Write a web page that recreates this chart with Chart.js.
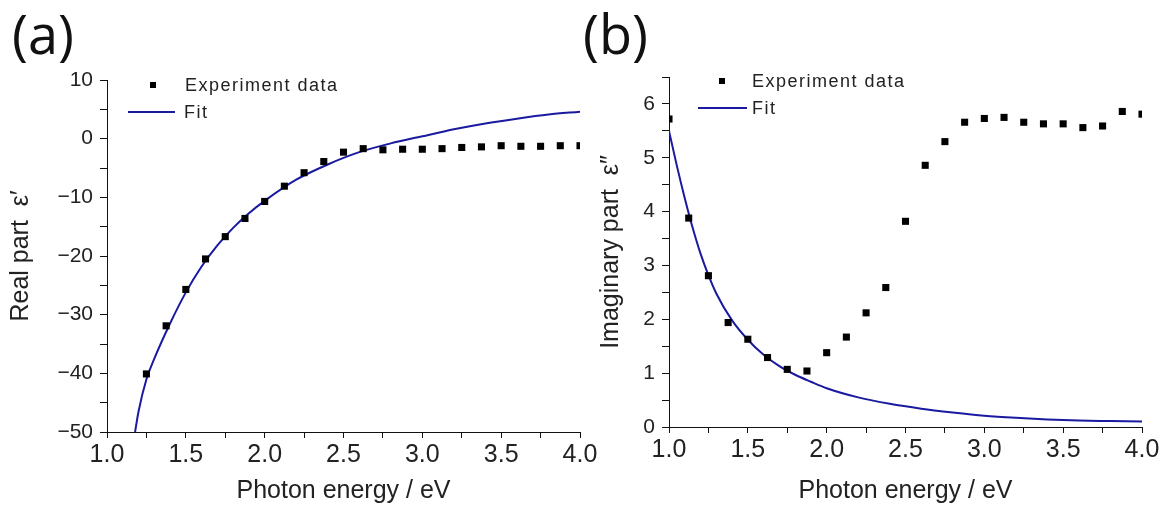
<!DOCTYPE html>
<html>
<head>
<meta charset="utf-8">
<script src="https://cdn.jsdelivr.net/npm/chart.js@4.4.1/dist/chart.umd.min.js"></script>
<style>
  body { margin: 0; background: #fff; }
  #page { position: relative; width: 1171px; height: 510px; overflow: hidden; font-family: "Liberation Sans", Arial, sans-serif; color: #222; }
  canvas { position: absolute; top: 0; }
  .tag { position: absolute; font-family: "Open Sans", sans-serif; font-size: 54px; line-height: 1; color: #111; }
  .leg { position: absolute; font-size: 18px; letter-spacing: 1.5px; line-height: 20px; height: 20px; white-space: nowrap; }
  .sq { position: absolute; width: 6px; height: 6px; background: #000; }
  .ln { position: absolute; height: 2px; background: #1a1aa0; }
</style>
</head>
<body>
<div id="page">
  <canvas id="realChart" width="610" height="510" style="left:0px"></canvas>
  <canvas id="imagChart" width="586" height="510" style="left:585px"></canvas>

  <div class="tag" style="left:12px; top:6px">(a)</div>
  <div class="tag" style="left:583px; top:6px">(b)</div>

  <div class="sq" style="left:150px; top:82px"></div>
  <div class="leg" style="left:185px; top:75px">Experiment data</div>
  <div class="ln" style="left:128px; top:111px; width:47px"></div>
  <div class="leg" style="left:184px; top:102px">Fit</div>

  <div class="sq" style="left:719px; top:78px"></div>
  <div class="leg" style="left:752px; top:71px">Experiment data</div>
  <div class="ln" style="left:698px; top:107px; width:49px"></div>
  <div class="leg" style="left:752px; top:98px">Fit</div>
</div>
<script>
// (a) real part, experiment points
const realEnergy = [1.25, 1.375, 1.5, 1.625, 1.75, 1.875, 2.0, 2.125, 2.25, 2.375, 2.5, 2.625,
  2.75, 2.875, 3.0, 3.125, 3.25, 3.375, 3.5, 3.625, 3.75, 3.875, 4.0]
const realExp = [-40.1, -31.9, -25.7, -20.5, -16.7, -13.6, -10.7, -8.1, -5.8, -3.9, -2.3, -1.7,
  -1.9, -1.8, -1.8, -1.7, -1.5, -1.4, -1.2, -1.3, -1.3, -1.2, -1.2]
// (a) fit curve
const realFitEnergy = [1.178, 1.2, 1.25, 1.3, 1.4, 1.5, 1.6, 1.7, 1.8, 1.9, 2.0, 2.2, 2.4, 2.6,
  2.8, 3.0, 3.2, 3.4, 3.6, 3.8, 4.0]
const realFit = [-50, -46.5, -41.0, -37.5, -31.5, -26.2, -21.8, -18.2, -15.2, -12.7, -10.6, -7.0,
  -4.4, -2.3, -0.8, 0.4, 1.6, 2.6, 3.4, 4.1, 4.6]

// (b) imaginary part, experiment points
const imagEnergy = [1.0, 1.125, 1.25, 1.375, 1.5, 1.625, 1.75, 1.875, 2.0, 2.125, 2.25, 2.375,
  2.5, 2.625, 2.75, 2.875, 3.0, 3.125, 3.25, 3.375, 3.5, 3.625, 3.75, 3.875, 4.0]
const imagExp = [5.72, 3.88, 2.81, 1.94, 1.63, 1.29, 1.07, 1.04, 1.38, 1.67, 2.12, 2.59,
  3.82, 4.86, 5.30, 5.66, 5.73, 5.75, 5.66, 5.63, 5.63, 5.56, 5.59, 5.86, 5.81]
// (b) fit curve
const imagFitEnergy = [1.0, 1.05, 1.1, 1.15, 1.2, 1.25, 1.3, 1.4, 1.5, 1.6, 1.7, 1.8, 1.9, 2.0,
  2.2, 2.4, 2.6, 2.8, 3.0, 3.2, 3.4, 3.6, 3.8, 4.0]
const imagFit = [5.5, 4.85, 4.25, 3.7, 3.22, 2.82, 2.48, 1.98, 1.62, 1.34, 1.13, 0.97, 0.84, 0.72,
  0.55, 0.43, 0.34, 0.27, 0.21, 0.17, 0.14, 0.12, 0.11, 0.1]

const xTitle = "Photon energy / eV"
const realTitle = "Real part  ε′"
const imagTitle = "Imaginary part  ε″"

const fitColor = "#1a1aa0"
const axisColor = "#111"
const textColor = "#222"

Chart.defaults.font.family = "'Liberation Sans', Arial, sans-serif"
Chart.defaults.color = textColor

function pts(xs, ys) {
  return xs.map((x, i) => ({ x: x, y: ys[i] }))
}

function near(v, step) {
  return Math.abs(v / step - Math.round(v / step)) < 1e-6
}

function makePanel(id, p) {
  const ctx = document.getElementById(id).getContext("2d")
  return new Chart(ctx, {
    type: "scatter",
    data: {
      datasets: [{
        label: "Experiment data",
        data: pts(p.expX, p.expY),
        pointStyle: "rect",
        pointRadius: 5,
        backgroundColor: "#000",
        borderColor: "#000",
        borderWidth: 0,
        showLine: false,
        order: 1
      }, {
        label: "Fit",
        data: pts(p.fitX, p.fitY),
        showLine: true,
        pointRadius: 0,
        borderColor: fitColor,
        borderWidth: 2,
        cubicInterpolationMode: "monotone",
        order: 2
      }]
    },
    options: {
      responsive: false,
      animation: false,
      layout: { padding: { left: 0, top: p.top, right: p.right, bottom: 0 } },
      plugins: { legend: { display: false }, tooltip: { enabled: false }, title: { display: false } },
      scales: {
        x: {
          type: "linear",
          min: 1, max: 4,
          afterFit: (s) => { s.height = p.xHeight },
          border: { display: true, color: axisColor, width: 1 },
          grid: { drawOnChartArea: false, drawTicks: true, tickLength: 6, color: axisColor },
          ticks: {
            stepSize: 0.25, autoSkip: false, maxRotation: 0, padding: 2,
            font: { size: 25 }, color: textColor,
            callback: (v) => near(v, 0.5) ? v.toFixed(1) : ""
          },
          title: { display: true, text: xTitle, font: { size: 25 }, color: textColor, padding: { top: 0, bottom: 4 } }
        },
        y: {
          min: p.yMin, max: p.yMax,
          afterFit: (s) => { s.width = p.yWidth },
          border: { display: true, color: axisColor, width: 1 },
          grid: { drawOnChartArea: false, drawTicks: true, tickLength: 7, color: axisColor },
          ticks: {
            stepSize: p.yMinor, autoSkip: false, padding: 7,
            font: { size: 21 }, color: textColor,
            callback: (v) => near(v, p.yMajor) ? String(Math.round(v)).replace("-", "\u2212") : ""
          },
          title: { display: true, text: p.yTitle, font: { size: 25 }, color: textColor, padding: { top: p.titlePad, bottom: 0 } }
        }
      }
    }
  })
}

makePanel("realChart", {
  expX: realEnergy, expY: realExp, fitX: realFitEnergy, fitY: realFit,
  yMin: -50, yMax: 10, yMinor: 5, yMajor: 10, yTitle: realTitle,
  top: 80, right: 30, xHeight: 78, yWidth: 107, titlePad: 6
})

makePanel("imagChart", {
  expX: imagEnergy, expY: imagExp, fitX: imagFitEnergy, fitY: imagFit,
  yMin: 0, yMax: 6.5, yMinor: 0.5, yMajor: 1, yTitle: imagTitle,
  top: 77, right: 29, xHeight: 83, yWidth: 84, titlePad: 11
})
</script>
</body>
</html>
